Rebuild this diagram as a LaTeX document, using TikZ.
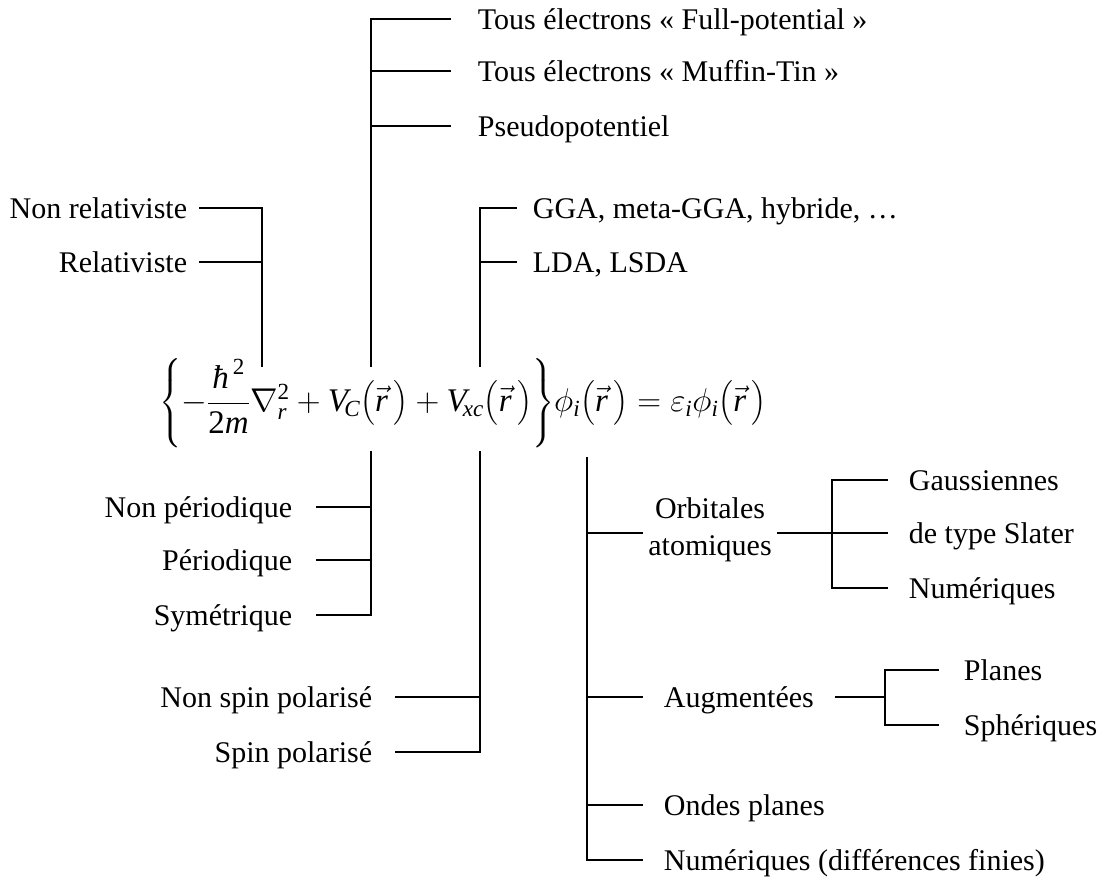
\RequirePackage{fix-cm}
\documentclass[tikz,border=0pt]{standalone}
\usepackage{amsmath}
\usepackage{fontspec}
\setmainfont{Liberation Serif}
\newcommand\ii[1]{\text{\itshape #1}}
\newcommand\rr{\bigl(\vec{\ii{r}}\,\bigr)}
\begin{document}
\begin{tikzpicture}[x=1pt,y=-1pt,
  line width=1.8pt, line cap=rect,
  every node/.style={font=\fontsize{30}{37}\selectfont, inner ysep=0pt, text height=20pt, text depth=0pt},
  lw/.style={anchor=west, inner xsep=#1},
  le/.style={anchor=east, inner xsep=#1}]
\useasboundingbox (0,0) rectangle (1102,879);

% equation
\node[inner sep=0pt, text height=, text depth=, font=\fontsize{33}{40}\selectfont] (eq) at (463,403)
 {$\left\{-\dfrac{\ii{ħ}^{\,\text{2}}}{\text{2}\ii{m}}\nabla_{\ii{r}}^{\text{2}}+\ii{V}_{\!\ii{C}}\rr+\ii{V}_{\!\ii{xc}}\rr\right\}\!\phi_{\ii{i}}\rr=\varepsilon_{\ii{i}}\phi_{\ii{i}}\rr$};

% top tree (potential)
\coordinate (T0) at (371,366);
\coordinate (T1) at (371,19);
\coordinate (T2) at (371,71);
\coordinate (T3) at (371,126);
\node[lw=27pt] (t1) at (450,19) {Tous électrons « Full-potential »};
\node[lw=27pt] (t2) at (450,71) {Tous électrons « Muffin-Tin »};
\node[lw=27pt] (t3) at (450,126) {Pseudopotentiel};
\draw (T0) -- (T1) -- (t1.west);
\draw (T2) -- (t2.west);
\draw (T3) -- (t3.west);

% relativistic tree
\coordinate (R0) at (262,366);
\coordinate (R1) at (262,208);
\coordinate (R2) at (262,262);
\node[le=12pt] (r1) at (200,208) {Non relativiste};
\node[le=12pt] (r2) at (200,262) {Relativiste};
\draw (R0) -- (R1) -- (r1.east);
\draw (R2) -- (r2.east);

% exchange-correlation tree
\coordinate (X0) at (480,366);
\coordinate (X1) at (480,208);
\coordinate (X2) at (480,262);
\node[lw=16pt] (x1) at (516,208) {GGA, meta-GGA, hybride, …};
\node[lw=16pt] (x2) at (516,262) {LDA, LSDA};
\draw (X0) -- (X1) -- (x1.west);
\draw (X2) -- (x2.west);

% periodicity tree
\coordinate (P0) at (371,452);
\coordinate (P1) at (371,507);
\coordinate (P2) at (371,560);
\coordinate (P3) at (371,615);
\node[le=24pt] (p1) at (317,507) {Non périodique};
\node[le=24pt] (p2) at (317,560) {Périodique};
\node[le=24pt] (p3) at (317,615) {Symétrique};
\draw (P0) -- (P3) -- (p3.east);
\draw (P1) -- (p1.east);
\draw (P2) -- (p2.east);

% spin tree
\coordinate (S0) at (480,452);
\coordinate (S1) at (480,697);
\coordinate (S2) at (480,752);
\node[le=23pt] (s1) at (396,697) {Non spin polarisé};
\node[le=23pt] (s2) at (396,752) {Spin polarisé};
\draw (S0) -- (S2) -- (s2.east);
\draw (S1) -- (s1.east);

% basis tree
\coordinate (B0) at (587,458);
\coordinate (B1) at (587,533);
\coordinate (B2) at (587,697);
\coordinate (B3) at (587,805);
\coordinate (B4) at (587,860);
\node[align=center, inner xsep=5pt, text height=, text depth=] (b1) at (710,530) {Orbitales\\atomiques};
\node[lw=21pt] (b2) at (642,697) {Augmentées};
\node[lw=21pt] (b3) at (642,805) {Ondes planes};
\node[lw=21pt] (b4) at (642,860) {Numériques (différences finies)};
\draw (B0) -- (B4) -- (b4.west);
\draw (B1) -- (B1 -| b1.west);
\draw (B2) -- (b2.west);
\draw (B3) -- (b3.west);

% atomic orbitals sub-tree
\coordinate (O0) at (832,533);
\coordinate (O1) at (832,480);
\coordinate (O2) at (832,588);
\node[lw=21pt] (o1) at (887,480) {Gaussiennes};
\node[lw=21pt] (o2) at (887,533) {de type Slater};
\node[lw=21pt] (o3) at (887,588) {Numériques};
\draw (O0 -| b1.east) -- (O0) -- (o2.west);
\draw (O1) -- (O2);
\draw (O1) -- (o1.west);
\draw (O2) -- (o3.west);

% augmented sub-tree
\coordinate (A0) at (885,697);
\coordinate (A1) at (885,670);
\coordinate (A2) at (885,725);
\node[lw=25pt] (a1) at (938,670) {Planes};
\node[lw=25pt] (a2) at (938,725) {Sphériques};
\draw (b2.east) -- (A0);
\draw (A1) -- (A2);
\draw (A1) -- (a1.west);
\draw (A2) -- (a2.west);
\end{tikzpicture}
\end{document}
